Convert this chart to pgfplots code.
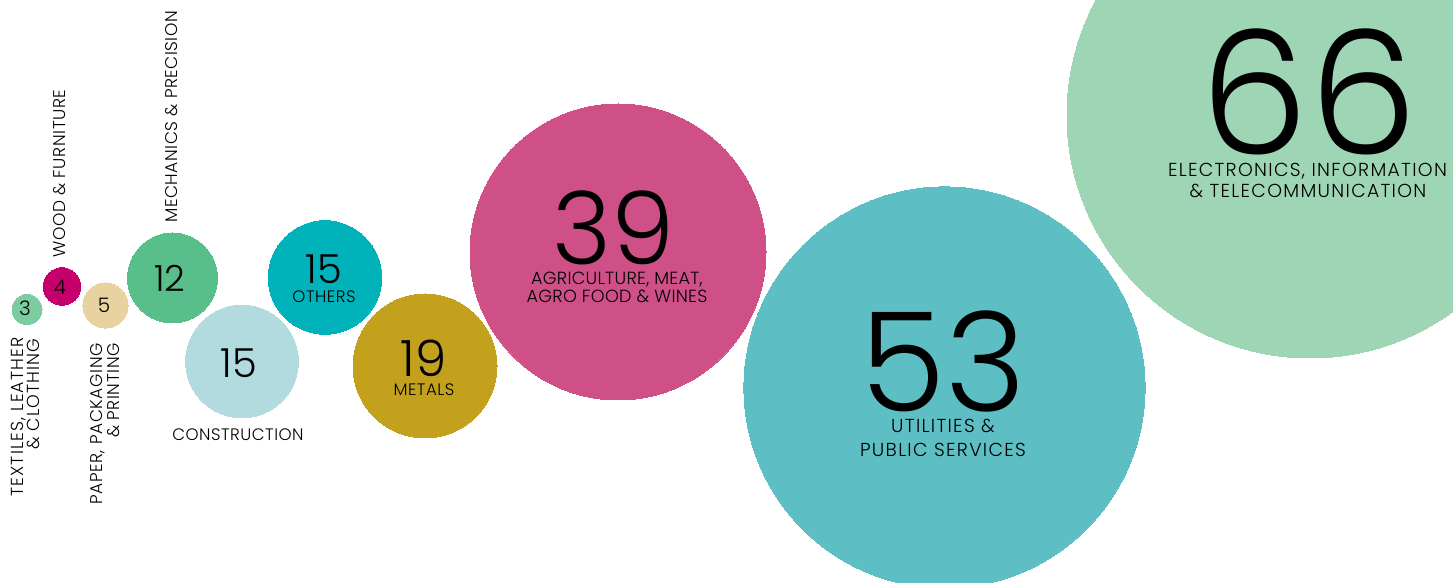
\documentclass[border=0pt]{standalone}
\usepackage{fontspec}
\setmainfont{Poppins Light}
\usepackage{pgfplots}
\pgfplotsset{compat=1.18}
\definecolor{cA}{HTML}{7DCBA0}
\definecolor{cB}{HTML}{C5006D}
\definecolor{cC}{HTML}{E8D3A0}
\definecolor{cD}{HTML}{58BE8A}
\definecolor{cE}{HTML}{B2DBE0}
\definecolor{cF}{HTML}{00B3BB}
\definecolor{cG}{HTML}{C4A11D}
\definecolor{cH}{HTML}{CF5087}
\definecolor{cI}{HTML}{5DBEC4}
\definecolor{cJ}{HTML}{9ED5B5}
\newcommand{\fs}[1]{\fontsize{#1}{#1}\selectfont}
\newcommand{\ls}[1]{\addfontfeatures{LetterSpace=#1}}
\begin{document}
\begin{tikzpicture}
\begin{axis}[
  at={(0,0)}, anchor=south west,
  width=726.5pt, height=291.5pt, scale only axis,
  xmin=0, xmax=1453, ymin=0, ymax=583, y dir=reverse,
  hide axis, clip=true, clip marker paths=true,
  every axis plot/.append style={only marks, mark=*, line width=0pt},
  nodes={inner sep=0pt, text=black},
]
% circles: x, y in pixels; mark size = radius/2 pt
\addplot[color=cA, mark size=7.5pt] coordinates {(27,309.5)};
\addplot[color=cB, mark size=9.4pt] coordinates {(62,286.5)};
\addplot[color=cC, mark size=11.3pt] coordinates {(105.5,305.5)};
\addplot[color=cD, mark size=22.5pt] coordinates {(172.5,278)};
\addplot[color=cE, mark size=28.2pt] coordinates {(242,361.5)};
\addplot[color=cF, mark size=28.4pt] coordinates {(325,277.5)};
\addplot[color=cG, mark size=36pt] coordinates {(425,366)};
\addplot[color=cH, mark size=74pt] coordinates {(618,252)};
\addplot[color=cI, mark size=100.3pt] coordinates {(944.5,387.5)};
\addplot[color=cJ, mark size=121.5pt] coordinates {(1310,115)};
% numbers
\node[anchor=base] at (axis cs:25,316) {\fs{10}3};
\node[anchor=base] at (axis cs:60,295) {\fs{10}4};
\node[anchor=base] at (axis cs:104,313) {\fs{10}5};
\node[anchor=base] at (axis cs:170,292) {\fs{18}12};
\node[anchor=base] at (axis cs:238.5,378) {\fs{20}15};
\node[anchor=base] at (axis cs:324,284) {\fs{20}15};
\node[anchor=base] at (axis cs:423.5,377) {\fs{25}19};
\node[anchor=base] at (axis cs:614,265) {\fs{50.5}39};
\node[anchor=base] at (axis cs:943,412) {\fs{69}53};
\node[anchor=base] at (axis cs:1309,155) {\fs{86}66};
% labels
\node[anchor=base] at (axis cs:238,441) {\fs{8.3}\ls{3}CONSTRUCTION};
\node[anchor=base] at (axis cs:324,303) {\fs{8.3}\ls{3}OTHERS};
\node[anchor=base] at (axis cs:424,396) {\fs{8.3}\ls{3}METALS};
\node[anchor=base] at (axis cs:617,285) {\fs{8.8}\ls{1.5}AGRICULTURE, MEAT,};
\node[anchor=base] at (axis cs:617,303) {\fs{8.8}\ls{1.5}AGRO FOOD \& WINES};
\node[anchor=base] at (axis cs:943,433) {\fs{9.4}\ls{7}UTILITIES \&};
\node[anchor=base] at (axis cs:943,457) {\fs{9.4}\ls{7}PUBLIC SERVICES};
\node[anchor=base] at (axis cs:1307.5,177) {\fs{9.4}\ls{7}ELECTRONICS, INFORMATION};
\node[anchor=base] at (axis cs:1308,198) {\fs{9.4}\ls{7}\& TELECOMMUNICATION};
% rotated labels
\node[rotate=90, anchor=base east] at (axis cs:24,337) {\fs{8.7}\ls{6.5}TEXTILES, LEATHER};
\node[rotate=90, anchor=base east] at (axis cs:40,338) {\fs{8.7}\ls{6.5}\& CLOTHING};
\node[rotate=90, anchor=base east] at (axis cs:102,343) {\fs{8.5}\ls{3.5}PAPER, PACKAGING};
\node[rotate=90, anchor=base east] at (axis cs:120,343) {\fs{8.5}\ls{3.5}\& PRINTING};
\node[rotate=90, anchor=base west] at (axis cs:65,258) {\fs{8.5}\ls{3.5}WOOD \& FURNITURE};
\node[rotate=90, anchor=base west] at (axis cs:177,223) {\fs{8.5}\ls{3}MECHANICS \& PRECISION};
\end{axis}
\pgfresetboundingbox
\path[use as bounding box] (0,0) rectangle (726.5pt,291.5pt);
\end{tikzpicture}
\end{document}
